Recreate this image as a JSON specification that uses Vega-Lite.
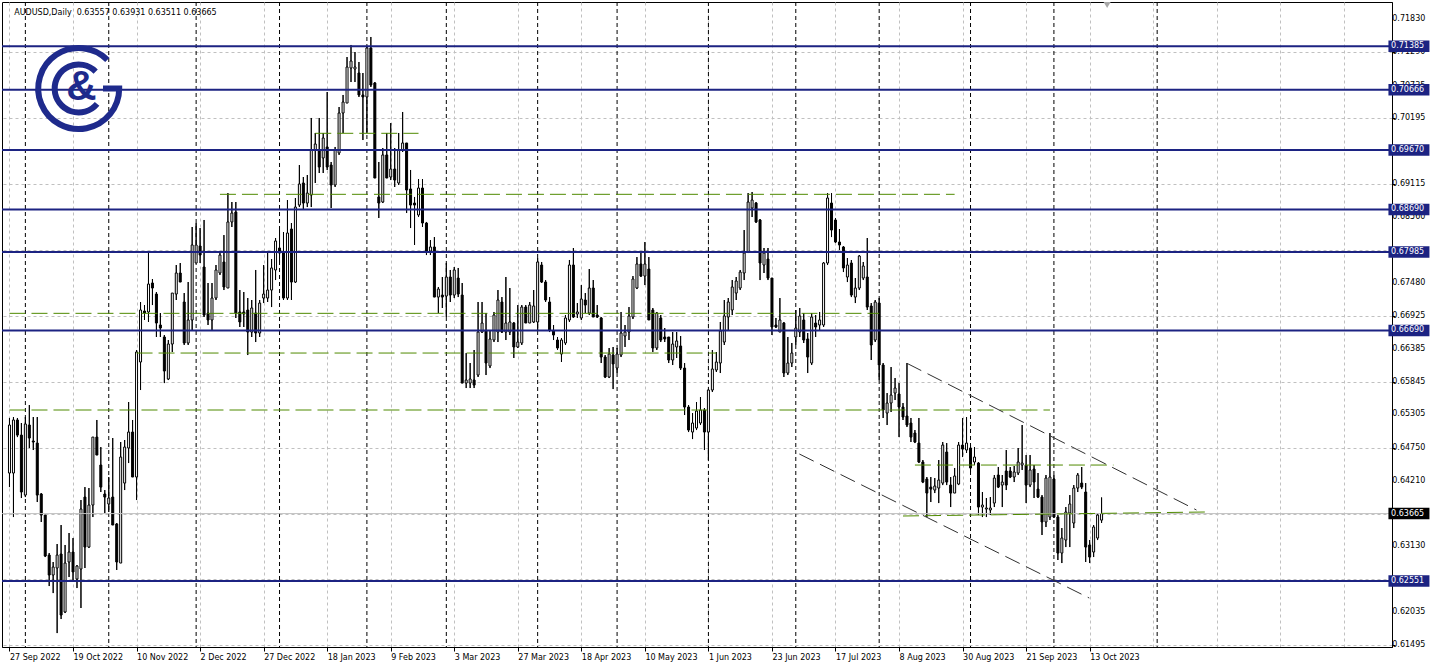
{
"$schema": "https://vega.github.io/schema/vega-lite/v6.json",
"width": 1390, "height": 645,
"autosize": {"type": "none"},
"padding": {"left": 2, "top": 2, "right": 47, "bottom": 23},
"background": "white",
"config": {"view": {"stroke": "black", "strokeWidth": 1}, "font": "DejaVu Sans"},
"datasets": {
"k": [
{"i":0,"o":0.64335,"h":0.65244,"l":0.64103,"c":0.65128},
{"i":1,"o":0.64335,"h":0.65260,"l":0.63608,"c":0.65211},
{"i":2,"o":0.65211,"h":0.65244,"l":0.64929,"c":0.64962},
{"i":3,"o":0.64962,"h":0.65161,"l":0.63922,"c":0.64021},
{"i":4,"o":0.63971,"h":0.65260,"l":0.63938,"c":0.65145},
{"i":5,"o":0.65128,"h":0.65458,"l":0.64748,"c":0.64913},
{"i":6,"o":0.64864,"h":0.65260,"l":0.64715,"c":0.64847},
{"i":7,"o":0.64830,"h":0.65260,"l":0.63856,"c":0.63971},
{"i":8,"o":0.63988,"h":0.64004,"l":0.63526,"c":0.63641},
{"i":9,"o":0.63641,"h":0.63641,"l":0.62947,"c":0.62964},
{"i":10,"o":0.62980,"h":0.63013,"l":0.62468,"c":0.62650},
{"i":11,"o":0.62650,"h":0.62865,"l":0.62352,"c":0.62782},
{"i":12,"o":0.62766,"h":0.63162,"l":0.61691,"c":0.62980},
{"i":13,"o":0.62997,"h":0.63476,"l":0.61923,"c":0.61989},
{"i":14,"o":0.62039,"h":0.63146,"l":0.62022,"c":0.62848},
{"i":15,"o":0.62865,"h":0.63344,"l":0.62617,"c":0.63030},
{"i":16,"o":0.63030,"h":0.63261,"l":0.62567,"c":0.62700},
{"i":17,"o":0.62584,"h":0.62815,"l":0.62435,"c":0.62799},
{"i":18,"o":0.62749,"h":0.63889,"l":0.62105,"c":0.63740},
{"i":19,"o":0.63938,"h":0.64103,"l":0.62766,"c":0.63112},
{"i":20,"o":0.63112,"h":0.64087,"l":0.63096,"c":0.63806},
{"i":21,"o":0.63806,"h":0.64929,"l":0.63608,"c":0.64929},
{"i":22,"o":0.64929,"h":0.65211,"l":0.64632,"c":0.64632},
{"i":23,"o":0.64467,"h":0.64764,"l":0.64021,"c":0.64103},
{"i":24,"o":0.63988,"h":0.64054,"l":0.63674,"c":0.63938},
{"i":25,"o":0.63823,"h":0.64269,"l":0.63691,"c":0.63922},
{"i":26,"o":0.63938,"h":0.64913,"l":0.63476,"c":0.63476},
{"i":27,"o":0.63493,"h":0.63509,"l":0.62733,"c":0.62865},
{"i":28,"o":0.62848,"h":0.64847,"l":0.62848,"c":0.64599},
{"i":29,"o":0.64169,"h":0.64880,"l":0.64054,"c":0.64764},
{"i":30,"o":0.64748,"h":0.65508,"l":0.64500,"c":0.65012},
{"i":31,"o":0.65012,"h":0.65211,"l":0.64269,"c":0.64269},
{"i":32,"o":0.64269,"h":0.66367,"l":0.63889,"c":0.66334},
{"i":33,"o":0.66169,"h":0.67160,"l":0.65706,"c":0.67028},
{"i":34,"o":0.67011,"h":0.67110,"l":0.66863,"c":0.66978},
{"i":35,"o":0.66995,"h":0.67969,"l":0.66830,"c":0.67457},
{"i":36,"o":0.67474,"h":0.67540,"l":0.67110,"c":0.67391},
{"i":37,"o":0.67292,"h":0.67325,"l":0.66582,"c":0.66813},
{"i":38,"o":0.66780,"h":0.66978,"l":0.66582,"c":0.66730},
{"i":39,"o":0.66582,"h":0.66615,"l":0.65821,"c":0.66020},
{"i":40,"o":0.65888,"h":0.66532,"l":0.65871,"c":0.66466},
{"i":41,"o":0.66466,"h":0.67308,"l":0.66334,"c":0.67308},
{"i":42,"o":0.67292,"h":0.67771,"l":0.67193,"c":0.67639},
{"i":43,"o":0.67639,"h":0.67804,"l":0.67490,"c":0.67490},
{"i":44,"o":0.67160,"h":0.67308,"l":0.66450,"c":0.66483},
{"i":45,"o":0.66483,"h":0.67490,"l":0.66450,"c":0.66863},
{"i":46,"o":0.66863,"h":0.68399,"l":0.66697,"c":0.68102},
{"i":47,"o":0.67804,"h":0.68465,"l":0.67804,"c":0.68102},
{"i":48,"o":0.68085,"h":0.68382,"l":0.67804,"c":0.67936},
{"i":49,"o":0.67738,"h":0.68515,"l":0.66912,"c":0.66945},
{"i":50,"o":0.66978,"h":0.67474,"l":0.66780,"c":0.66863},
{"i":51,"o":0.66863,"h":0.67474,"l":0.66697,"c":0.67226},
{"i":52,"o":0.67226,"h":0.67771,"l":0.67193,"c":0.67689},
{"i":53,"o":0.67639,"h":0.67969,"l":0.67606,"c":0.67936},
{"i":54,"o":0.67821,"h":0.68266,"l":0.67358,"c":0.67408},
{"i":55,"o":0.67391,"h":0.68960,"l":0.67391,"c":0.68482},
{"i":56,"o":0.68482,"h":0.68812,"l":0.68399,"c":0.68630},
{"i":57,"o":0.68647,"h":0.68812,"l":0.66896,"c":0.66978},
{"i":58,"o":0.66995,"h":0.67358,"l":0.66747,"c":0.66830},
{"i":59,"o":0.66995,"h":0.67325,"l":0.66747,"c":0.66962},
{"i":60,"o":0.67028,"h":0.67226,"l":0.66284,"c":0.66664},
{"i":61,"o":0.66664,"h":0.67193,"l":0.66582,"c":0.67061},
{"i":62,"o":0.66978,"h":0.67689,"l":0.66499,"c":0.66648},
{"i":63,"o":0.66648,"h":0.67193,"l":0.66582,"c":0.67143},
{"i":64,"o":0.67226,"h":0.67771,"l":0.67143,"c":0.67292},
{"i":65,"o":0.67226,"h":0.67986,"l":0.67160,"c":0.67358},
{"i":66,"o":0.67358,"h":0.67870,"l":0.67077,"c":0.67722},
{"i":67,"o":0.67689,"h":0.68217,"l":0.67523,"c":0.68168},
{"i":68,"o":0.68052,"h":0.68349,"l":0.67804,"c":0.67969},
{"i":69,"o":0.67986,"h":0.68316,"l":0.67193,"c":0.67226},
{"i":70,"o":0.67226,"h":0.68845,"l":0.67193,"c":0.68300},
{"i":71,"o":0.68366,"h":0.68465,"l":0.67193,"c":0.67490},
{"i":72,"o":0.67490,"h":0.68878,"l":0.67474,"c":0.68729},
{"i":73,"o":0.68762,"h":0.69423,"l":0.68729,"c":0.69109},
{"i":74,"o":0.69126,"h":0.69225,"l":0.68680,"c":0.68795},
{"i":75,"o":0.68795,"h":0.69258,"l":0.68729,"c":0.68960},
{"i":76,"o":0.68927,"h":0.70200,"l":0.68729,"c":0.69671},
{"i":77,"o":0.69671,"h":0.69952,"l":0.69126,"c":0.69770},
{"i":78,"o":0.69671,"h":0.70200,"l":0.69291,"c":0.69390},
{"i":79,"o":0.69539,"h":0.69952,"l":0.69291,"c":0.69869},
{"i":80,"o":0.69721,"h":0.70629,"l":0.69341,"c":0.69390},
{"i":81,"o":0.69423,"h":0.69473,"l":0.68713,"c":0.69093},
{"i":82,"o":0.69093,"h":0.69721,"l":0.69060,"c":0.69671},
{"i":83,"o":0.69622,"h":0.70381,"l":0.69589,"c":0.70282},
{"i":84,"o":0.70282,"h":0.70580,"l":0.69952,"c":0.70464},
{"i":85,"o":0.70447,"h":0.71207,"l":0.70447,"c":0.71042},
{"i":86,"o":0.71025,"h":0.71406,"l":0.70794,"c":0.71141},
{"i":87,"o":0.71009,"h":0.71290,"l":0.70794,"c":0.71042},
{"i":88,"o":0.70943,"h":0.71125,"l":0.70547,"c":0.70580},
{"i":89,"o":0.70580,"h":0.70943,"l":0.69836,"c":0.70547},
{"i":90,"o":0.70547,"h":0.71373,"l":0.69952,"c":0.71356},
{"i":91,"o":0.71356,"h":0.71538,"l":0.70712,"c":0.70745},
{"i":92,"o":0.70778,"h":0.70794,"l":0.69208,"c":0.69208},
{"i":93,"o":0.68895,"h":0.69473,"l":0.68548,"c":0.68795},
{"i":94,"o":0.68812,"h":0.69704,"l":0.68795,"c":0.69589},
{"i":95,"o":0.69589,"h":0.69952,"l":0.69208,"c":0.69208},
{"i":96,"o":0.69225,"h":0.70117,"l":0.69175,"c":0.69357},
{"i":97,"o":0.69357,"h":0.69704,"l":0.69060,"c":0.69175},
{"i":98,"o":0.69126,"h":0.69952,"l":0.69093,"c":0.69671},
{"i":99,"o":0.69671,"h":0.70299,"l":0.69638,"c":0.69787},
{"i":100,"o":0.69787,"h":0.69787,"l":0.68630,"c":0.69010},
{"i":101,"o":0.69027,"h":0.69341,"l":0.68382,"c":0.68762},
{"i":102,"o":0.68795,"h":0.68895,"l":0.68102,"c":0.68762},
{"i":103,"o":0.68597,"h":0.69192,"l":0.68564,"c":0.69043},
{"i":104,"o":0.69043,"h":0.69192,"l":0.68399,"c":0.68465},
{"i":105,"o":0.68465,"h":0.68482,"l":0.67936,"c":0.67986},
{"i":106,"o":0.68002,"h":0.68184,"l":0.67936,"c":0.68069},
{"i":107,"o":0.68069,"h":0.68233,"l":0.67242,"c":0.67242},
{"i":108,"o":0.67242,"h":0.67408,"l":0.66978,"c":0.67374},
{"i":109,"o":0.67275,"h":0.67573,"l":0.67061,"c":0.67242},
{"i":110,"o":0.67259,"h":0.67804,"l":0.66912,"c":0.67573},
{"i":111,"o":0.67573,"h":0.67689,"l":0.67160,"c":0.67275},
{"i":112,"o":0.67275,"h":0.67738,"l":0.67226,"c":0.67689},
{"i":113,"o":0.67556,"h":0.67722,"l":0.67242,"c":0.67292},
{"i":114,"o":0.67275,"h":0.67474,"l":0.65821,"c":0.65821},
{"i":115,"o":0.65821,"h":0.66317,"l":0.65739,"c":0.65871},
{"i":116,"o":0.65821,"h":0.66152,"l":0.65739,"c":0.65888},
{"i":117,"o":0.65871,"h":0.66367,"l":0.65739,"c":0.65788},
{"i":118,"o":0.65954,"h":0.67160,"l":0.65921,"c":0.66664},
{"i":119,"o":0.66664,"h":0.67160,"l":0.66648,"c":0.66813},
{"i":120,"o":0.66681,"h":0.66978,"l":0.65954,"c":0.66152},
{"i":121,"o":0.66103,"h":0.66697,"l":0.66069,"c":0.66549},
{"i":122,"o":0.66532,"h":0.66995,"l":0.66499,"c":0.66945},
{"i":123,"o":0.66664,"h":0.67358,"l":0.66499,"c":0.67193},
{"i":124,"o":0.67160,"h":0.67242,"l":0.66648,"c":0.66664},
{"i":125,"o":0.66664,"h":0.67573,"l":0.66532,"c":0.66813},
{"i":126,"o":0.66664,"h":0.67391,"l":0.66615,"c":0.66830},
{"i":127,"o":0.66813,"h":0.66830,"l":0.66235,"c":0.66417},
{"i":128,"o":0.66417,"h":0.67110,"l":0.66400,"c":0.66499},
{"i":129,"o":0.66483,"h":0.67110,"l":0.66450,"c":0.67077},
{"i":130,"o":0.67077,"h":0.67110,"l":0.66813,"c":0.66813},
{"i":131,"o":0.66813,"h":0.67160,"l":0.66813,"c":0.67110},
{"i":132,"o":0.66830,"h":0.67358,"l":0.66813,"c":0.67094},
{"i":133,"o":0.66830,"h":0.67887,"l":0.66697,"c":0.67821},
{"i":134,"o":0.67771,"h":0.67821,"l":0.67474,"c":0.67490},
{"i":135,"o":0.67490,"h":0.67523,"l":0.67160,"c":0.67193},
{"i":136,"o":0.67160,"h":0.67242,"l":0.66664,"c":0.66697},
{"i":137,"o":0.66681,"h":0.66780,"l":0.66532,"c":0.66615},
{"i":138,"o":0.66532,"h":0.66582,"l":0.66367,"c":0.66400},
{"i":139,"o":0.66301,"h":0.66565,"l":0.66169,"c":0.66532},
{"i":140,"o":0.66483,"h":0.66945,"l":0.66450,"c":0.66896},
{"i":141,"o":0.66863,"h":0.67854,"l":0.66830,"c":0.67771},
{"i":142,"o":0.67771,"h":0.68052,"l":0.66896,"c":0.66912},
{"i":143,"o":0.66962,"h":0.67143,"l":0.66896,"c":0.66995},
{"i":144,"o":0.66896,"h":0.67440,"l":0.66863,"c":0.67209},
{"i":145,"o":0.67193,"h":0.67308,"l":0.66978,"c":0.67110},
{"i":146,"o":0.66978,"h":0.67705,"l":0.66945,"c":0.67391},
{"i":147,"o":0.67391,"h":0.67523,"l":0.66912,"c":0.66912},
{"i":148,"o":0.66945,"h":0.67110,"l":0.66896,"c":0.66912},
{"i":149,"o":0.66896,"h":0.66912,"l":0.66152,"c":0.66251},
{"i":150,"o":0.66251,"h":0.66284,"l":0.65904,"c":0.65921},
{"i":151,"o":0.65921,"h":0.66400,"l":0.65904,"c":0.66301},
{"i":152,"o":0.66284,"h":0.66417,"l":0.65722,"c":0.66136},
{"i":153,"o":0.66069,"h":0.66400,"l":0.65987,"c":0.66301},
{"i":154,"o":0.66284,"h":0.66995,"l":0.66251,"c":0.66648},
{"i":155,"o":0.66598,"h":0.66780,"l":0.66417,"c":0.66664},
{"i":156,"o":0.66664,"h":0.67077,"l":0.66532,"c":0.66929},
{"i":157,"o":0.66912,"h":0.67589,"l":0.66879,"c":0.67540},
{"i":158,"o":0.67391,"h":0.67903,"l":0.67374,"c":0.67788},
{"i":159,"o":0.67788,"h":0.67986,"l":0.67573,"c":0.67589},
{"i":160,"o":0.67589,"h":0.68151,"l":0.67440,"c":0.67788},
{"i":161,"o":0.67705,"h":0.67903,"l":0.66863,"c":0.66863},
{"i":162,"o":0.67028,"h":0.67061,"l":0.66334,"c":0.66400},
{"i":163,"o":0.66400,"h":0.66995,"l":0.66367,"c":0.66978},
{"i":164,"o":0.66896,"h":0.66945,"l":0.66499,"c":0.66532},
{"i":165,"o":0.66582,"h":0.66730,"l":0.66499,"c":0.66549},
{"i":166,"o":0.66582,"h":0.66582,"l":0.66152,"c":0.66202},
{"i":167,"o":0.66202,"h":0.66664,"l":0.66119,"c":0.66466},
{"i":168,"o":0.66417,"h":0.66664,"l":0.66235,"c":0.66516},
{"i":169,"o":0.66433,"h":0.66598,"l":0.66037,"c":0.66069},
{"i":170,"o":0.66069,"h":0.66152,"l":0.65293,"c":0.65425},
{"i":171,"o":0.65425,"h":0.65458,"l":0.65012,"c":0.65045},
{"i":172,"o":0.65012,"h":0.65326,"l":0.64896,"c":0.65161},
{"i":173,"o":0.65078,"h":0.65508,"l":0.65045,"c":0.65359},
{"i":174,"o":0.65161,"h":0.65590,"l":0.65128,"c":0.65376},
{"i":175,"o":0.65376,"h":0.65409,"l":0.64715,"c":0.65012},
{"i":176,"o":0.65012,"h":0.65722,"l":0.64550,"c":0.65706},
{"i":177,"o":0.65706,"h":0.66367,"l":0.65673,"c":0.66053},
{"i":178,"o":0.66037,"h":0.66334,"l":0.66004,"c":0.66169},
{"i":179,"o":0.66152,"h":0.66830,"l":0.65987,"c":0.66681},
{"i":180,"o":0.66499,"h":0.67193,"l":0.66450,"c":0.66929},
{"i":181,"o":0.66912,"h":0.67226,"l":0.66697,"c":0.67160},
{"i":182,"o":0.67028,"h":0.67523,"l":0.66945,"c":0.67408},
{"i":183,"o":0.67308,"h":0.67573,"l":0.67193,"c":0.67507},
{"i":184,"o":0.67391,"h":0.67689,"l":0.67358,"c":0.67655},
{"i":185,"o":0.67639,"h":0.68349,"l":0.67523,"c":0.67969},
{"i":186,"o":0.67986,"h":0.68960,"l":0.67969,"c":0.68812},
{"i":187,"o":0.68713,"h":0.68977,"l":0.68564,"c":0.68845},
{"i":188,"o":0.68795,"h":0.68812,"l":0.68465,"c":0.68482},
{"i":189,"o":0.68515,"h":0.68531,"l":0.67523,"c":0.67804},
{"i":190,"o":0.67771,"h":0.68052,"l":0.67639,"c":0.67969},
{"i":191,"o":0.67870,"h":0.68052,"l":0.67523,"c":0.67556},
{"i":192,"o":0.67556,"h":0.67556,"l":0.66615,"c":0.66747},
{"i":193,"o":0.66780,"h":0.66896,"l":0.66730,"c":0.66747},
{"i":194,"o":0.66664,"h":0.67226,"l":0.66664,"c":0.66863},
{"i":195,"o":0.66813,"h":0.66830,"l":0.65921,"c":0.65987},
{"i":196,"o":0.65987,"h":0.66582,"l":0.65954,"c":0.66152},
{"i":197,"o":0.66152,"h":0.66483,"l":0.66086,"c":0.66317},
{"i":198,"o":0.66582,"h":0.67028,"l":0.66450,"c":0.66730},
{"i":199,"o":0.66664,"h":0.67061,"l":0.66582,"c":0.66929},
{"i":200,"o":0.66863,"h":0.66978,"l":0.66483,"c":0.66532},
{"i":201,"o":0.66549,"h":0.66648,"l":0.65987,"c":0.66251},
{"i":202,"o":0.66152,"h":0.66978,"l":0.66119,"c":0.66912},
{"i":203,"o":0.66813,"h":0.66945,"l":0.66582,"c":0.66747},
{"i":204,"o":0.66780,"h":0.66995,"l":0.66697,"c":0.66863},
{"i":205,"o":0.66780,"h":0.67821,"l":0.66747,"c":0.67804},
{"i":206,"o":0.67804,"h":0.68960,"l":0.67771,"c":0.68878},
{"i":207,"o":0.68795,"h":0.68960,"l":0.68233,"c":0.68349},
{"i":208,"o":0.68515,"h":0.68548,"l":0.68135,"c":0.68151},
{"i":209,"o":0.68151,"h":0.68366,"l":0.68019,"c":0.68102},
{"i":210,"o":0.68069,"h":0.68085,"l":0.67655,"c":0.67722},
{"i":211,"o":0.67573,"h":0.67887,"l":0.67490,"c":0.67771},
{"i":212,"o":0.67804,"h":0.67854,"l":0.67242,"c":0.67275},
{"i":213,"o":0.67242,"h":0.67556,"l":0.67143,"c":0.67391},
{"i":214,"o":0.67391,"h":0.67936,"l":0.67358,"c":0.67920},
{"i":215,"o":0.67556,"h":0.67821,"l":0.67523,"c":0.67754},
{"i":216,"o":0.67573,"h":0.68217,"l":0.67028,"c":0.67077},
{"i":217,"o":0.67094,"h":0.67143,"l":0.66202,"c":0.66450},
{"i":218,"o":0.66532,"h":0.67193,"l":0.66499,"c":0.67160},
{"i":219,"o":0.67143,"h":0.67226,"l":0.65871,"c":0.66119},
{"i":220,"o":0.66119,"h":0.66152,"l":0.65244,"c":0.65376},
{"i":221,"o":0.65326,"h":0.65656,"l":0.65128,"c":0.65491},
{"i":222,"o":0.65491,"h":0.66086,"l":0.65343,"c":0.65623},
{"i":223,"o":0.65656,"h":0.65904,"l":0.65541,"c":0.65739},
{"i":224,"o":0.65640,"h":0.65821,"l":0.64929,"c":0.65425},
{"i":225,"o":0.65425,"h":0.65491,"l":0.65211,"c":0.65260},
{"i":226,"o":0.65277,"h":0.66152,"l":0.65095,"c":0.65128},
{"i":227,"o":0.65161,"h":0.65244,"l":0.64847,"c":0.64929},
{"i":228,"o":0.64996,"h":0.65045,"l":0.64830,"c":0.64847},
{"i":229,"o":0.64830,"h":0.65244,"l":0.64500,"c":0.64517},
{"i":230,"o":0.64517,"h":0.64550,"l":0.64169,"c":0.64186},
{"i":231,"o":0.64236,"h":0.64269,"l":0.63608,"c":0.64004},
{"i":232,"o":0.64103,"h":0.64269,"l":0.63856,"c":0.64070},
{"i":233,"o":0.64054,"h":0.64252,"l":0.64004,"c":0.64120},
{"i":234,"o":0.64087,"h":0.64550,"l":0.63839,"c":0.64219},
{"i":235,"o":0.64169,"h":0.64847,"l":0.64136,"c":0.64797},
{"i":236,"o":0.64682,"h":0.64830,"l":0.64136,"c":0.64186},
{"i":237,"o":0.64136,"h":0.64269,"l":0.63773,"c":0.64004},
{"i":238,"o":0.64004,"h":0.64418,"l":0.64004,"c":0.64285},
{"i":239,"o":0.64153,"h":0.64847,"l":0.64136,"c":0.64797},
{"i":240,"o":0.64797,"h":0.65244,"l":0.64599,"c":0.64731},
{"i":241,"o":0.64715,"h":0.65260,"l":0.64666,"c":0.64830},
{"i":242,"o":0.64748,"h":0.64797,"l":0.64352,"c":0.64418},
{"i":243,"o":0.64517,"h":0.64764,"l":0.64467,"c":0.64599},
{"i":244,"o":0.64500,"h":0.64517,"l":0.63641,"c":0.63773},
{"i":245,"o":0.63773,"h":0.64021,"l":0.63608,"c":0.63806},
{"i":246,"o":0.63740,"h":0.63922,"l":0.63608,"c":0.63757},
{"i":247,"o":0.63724,"h":0.63938,"l":0.63641,"c":0.63757},
{"i":248,"o":0.63839,"h":0.64302,"l":0.63773,"c":0.64252},
{"i":249,"o":0.64302,"h":0.64434,"l":0.64087,"c":0.64103},
{"i":250,"o":0.64136,"h":0.64302,"l":0.63773,"c":0.64186},
{"i":251,"o":0.64368,"h":0.64715,"l":0.64054,"c":0.64136},
{"i":252,"o":0.64368,"h":0.64434,"l":0.64252,"c":0.64269},
{"i":253,"o":0.64269,"h":0.64451,"l":0.64186,"c":0.64352},
{"i":254,"o":0.64335,"h":0.64748,"l":0.64302,"c":0.64517},
{"i":255,"o":0.64467,"h":0.65128,"l":0.64385,"c":0.64500},
{"i":256,"o":0.64467,"h":0.64632,"l":0.63839,"c":0.64136},
{"i":257,"o":0.64136,"h":0.64632,"l":0.64103,"c":0.64385},
{"i":258,"o":0.64401,"h":0.64467,"l":0.63922,"c":0.64186},
{"i":259,"o":0.64070,"h":0.64335,"l":0.63922,"c":0.63938},
{"i":260,"o":0.63938,"h":0.63971,"l":0.63311,"c":0.63526},
{"i":261,"o":0.63526,"h":0.64302,"l":0.63443,"c":0.64252},
{"i":262,"o":0.63608,"h":0.64996,"l":0.63559,"c":0.64269},
{"i":263,"o":0.64236,"h":0.64302,"l":0.63592,"c":0.63608},
{"i":264,"o":0.63608,"h":0.63641,"l":0.62898,"c":0.63013},
{"i":265,"o":0.63013,"h":0.63426,"l":0.62848,"c":0.63261},
{"i":266,"o":0.63228,"h":0.63773,"l":0.63112,"c":0.63691},
{"i":267,"o":0.63674,"h":0.63971,"l":0.63112,"c":0.63823},
{"i":268,"o":0.63509,"h":0.64136,"l":0.63426,"c":0.64087},
{"i":269,"o":0.64087,"h":0.64335,"l":0.64021,"c":0.64302},
{"i":270,"o":0.64169,"h":0.64434,"l":0.64070,"c":0.64103},
{"i":271,"o":0.64021,"h":0.64169,"l":0.62865,"c":0.63112},
{"i":272,"o":0.63146,"h":0.63228,"l":0.62848,"c":0.62947},
{"i":273,"o":0.63030,"h":0.63476,"l":0.62947,"c":0.63443},
{"i":274,"o":0.63261,"h":0.63674,"l":0.63228,"c":0.63641},
{"i":275,"o":0.63557,"h":0.63931,"l":0.63511,"c":0.63665}
],
"seps": [{"i":4},{"i":25},{"i":47},{"i":68},{"i":90},{"i":110},{"i":133},{"i":153},{"i":176},{"i":198},{"i":219},{"i":242},{"i":263},{"i":289}],
"levels": [
{"p":0.71385,"k":"level"},{"p":0.70666,"k":"level"},{"p":0.69670,"k":"level"},{"p":0.68690,"k":"level"},
{"p":0.67985,"k":"level"},{"p":0.66690,"k":"level"},{"p":0.62551,"k":"level"},{"p":0.63665,"k":"price"}
],
"yt": [{"p":0.7183},{"p":0.7129},{"p":0.70735},{"p":0.70195},{"p":0.69115},{"p":0.6856},{"p":0.6748},{"p":0.66925},{"p":0.66385},{"p":0.65845},{"p":0.65305},{"p":0.6475},{"p":0.6421},{"p":0.6313},{"p":0.62035},{"p":0.61495}],
"green": [
{"a":77,"b":103,"p":0.69947,"q":0.69947},
{"a":53,"b":238,"p":0.68939,"q":0.68939},
{"a":0,"b":219,"p":0.66973,"q":0.66973},
{"a":32,"b":178,"p":0.66317,"q":0.66317},
{"a":0,"b":262,"p":0.65376,"q":0.65376},
{"a":228,"b":278,"p":0.64467,"q":0.64467},
{"a":225,"b":301,"p":0.63625,"q":0.63691}
],
"chan": [
{"a":226,"b":298.9,"p":0.66147,"q":0.63724},
{"a":198.9,"b":271.9,"p":0.64649,"q":0.62270}
],
"one": [{}]
},
"layer": [
{
"data": {"name": "k"},
"mark": {"type": "rule", "color": "black", "strokeWidth": 1},
"encoding": {
"x": {"field": "i", "type": "quantitative", "title": null, "scale": {"domain": [-0.625, 346.875], "nice": false, "zero": false},
"axis": {"orient": "bottom", "title": null, "values": [0,8,16,24,32,40,48,56,64,72,80,88,96,104,112,120,128,136,144,152,160,168,176,184,192,200,208,216,224,232,240,248,256,264,272,280,288,296,304,312,320,328,336,344],
"labelExpr": "(datum.value % 16 === 0 && datum.value <= 272) ? ['27 Sep 2022','19 Oct 2022','10 Nov 2022','2 Dec 2022','27 Dec 2022','18 Jan 2023','9 Feb 2023','3 Mar 2023','27 Mar 2023','18 Apr 2023','10 May 2023','1 Jun 2023','23 Jun 2023','17 Jul 2023','8 Aug 2023','30 Aug 2023','21 Sep 2023','13 Oct 2023'][datum.value / 16] : ''",
"labelAlign": "left", "labelBaseline": "top", "labelPadding": 2, "labelFont": "DejaVu Sans", "labelFontSize": 8, "labelColor": "black", "labelOverlap": false, "labelFlush": false,
"grid": true, "gridColor": "#c0c0c0", "gridDash": [3, 3], "gridWidth": 1,
"domain": true, "domainColor": "black", "tickColor": "black", "tickSize": 4,
"tickOpacity": {"condition": {"test": "datum.value % 16 === 0 && datum.value <= 272", "value": 1}, "value": 0}}},
"y": {"field": "l", "type": "quantitative", "title": null, "scale": {"domain": [0.61461, 0.72116], "nice": false, "zero": false},
"axis": {"orient": "right", "title": null, "values": [0.7183,0.7129,0.70735,0.70195,0.69655,0.69115,0.6856,0.6802,0.6748,0.66925,0.66385,0.65845,0.65305,0.6475,0.6421,0.63665,0.6313,0.6259,0.62035,0.61495],
"labels": false,
"grid": true, "gridColor": "#c0c0c0", "gridDash": [3, 3], "gridWidth": 1,
"domain": true, "domainColor": "black", "tickColor": "black", "tickSize": 3}},
"y2": {"field": "h"}
}
},
{
"data": {"name": "seps"},
"mark": {"type": "rule", "color": "black", "strokeWidth": 1, "strokeDash": [4, 3]},
"encoding": {
"x": {"field": "i", "type": "quantitative", "title": null}
}
},
{
"data": {"name": "k"},
"mark": {"type": "rule", "color": "black", "strokeWidth": 1},
"encoding": {
"x": {"field": "i", "type": "quantitative", "title": null},
"y": {"field": "l", "type": "quantitative", "title": null},
"y2": {"field": "h"}
}
},
{
"data": {"name": "k"},
"mark": {"type": "bar", "orient": "vertical", "size": 2, "stroke": "black", "strokeWidth": 1},
"encoding": {
"x": {"field": "i", "type": "quantitative", "title": null},
"y": {"field": "o", "type": "quantitative", "title": null},
"y2": {"field": "c"},
"fill": {"condition": {"test": "datum.c < datum.o", "value": "black"}, "value": "white"}
}
},
{
"data": {"name": "levels"},
"transform": [{"filter": "datum.k === 'price'"}],
"mark": {"type": "rule", "color": "#c0c0c0", "strokeWidth": 1},
"encoding": {
"y": {"field": "p", "type": "quantitative", "title": null}
}
},
{
"data": {"name": "levels"},
"transform": [{"filter": "datum.k === 'level'"}],
"mark": {"type": "rule", "color": "#1c2382", "strokeWidth": 2},
"encoding": {
"y": {"field": "p", "type": "quantitative", "title": null}
}
},
{
"data": {"name": "green"},
"mark": {"type": "rule", "color": "#4f8a00", "strokeWidth": 1, "strokeDash": [16, 6]},
"encoding": {
"x": {"field": "a", "type": "quantitative", "title": null},
"x2": {"field": "b"},
"y": {"field": "p", "type": "quantitative", "title": null},
"y2": {"field": "q"}
}
},
{
"data": {"name": "chan"},
"mark": {"type": "rule", "color": "#303030", "strokeWidth": 1, "strokeDash": [16, 7]},
"encoding": {
"x": {"field": "a", "type": "quantitative", "title": null},
"x2": {"field": "b"},
"y": {"field": "p", "type": "quantitative", "title": null},
"y2": {"field": "q"}
}
},
{
"data": {"name": "one"},
"mark": {"type": "point", "filled": false, "opacity": 1, "stroke": "#1e2a8c", "strokeWidth": 6, "strokeCap": "butt", "size": 6561,
"shape": "M0.707,-0.707A1,1,0,1,0,1,0L0.6,0M0.419,-0.419A0.593,0.593,0,1,0,0.454,0.381"},
"encoding": {
"x": {"datum": 17.43, "type": "quantitative", "title": null},
"y": {"datum": 0.70687, "type": "quantitative", "title": null}
}
},
{
"data": {"name": "one"},
"mark": {"type": "text", "text": "&", "font": "Liberation Sans", "fontWeight": "bold", "fontSize": 42, "color": "#1e2a8c", "align": "center", "baseline": "alphabetic"},
"encoding": {
"x": {"datum": 18.1, "type": "quantitative", "title": null},
"y": {"datum": 0.70497, "type": "quantitative", "title": null}
}
},
{
"data": {"name": "one"},
"mark": {"type": "text", "text": "AUDUSD,Daily\u00a0 0.63557 0.63931 0.63511 0.63665", "font": "DejaVu Sans", "fontSize": 8, "color": "black", "align": "left", "baseline": "alphabetic"},
"encoding": {
"x": {"datum": 1.2, "type": "quantitative", "title": null},
"y": {"datum": 0.71901, "type": "quantitative", "title": null}
}
},
{
"data": {"name": "one"},
"mark": {"type": "point", "shape": "triangle-down", "filled": true, "opacity": 1, "color": "#a8a8a8", "size": 50},
"encoding": {
"x": {"datum": 276.4, "type": "quantitative", "title": null},
"y": {"datum": 0.72066, "type": "quantitative", "title": null}
}
},
{
"data": {"name": "yt"},
"mark": {"type": "text", "font": "DejaVu Sans", "fontSize": 8, "color": "black", "align": "left", "baseline": "middle"},
"encoding": {
"x": {"datum": 348.2, "type": "quantitative", "title": null},
"y": {"field": "p", "type": "quantitative", "title": null},
"text": {"field": "p", "type": "quantitative", "format": ".5f"}
}
},
{
"data": {"name": "levels"},
"mark": {"type": "point", "filled": true, "opacity": 1, "size": 1681, "shape": "M-1,-0.28H1V0.28H-1Z", "strokeWidth": 0},
"encoding": {
"x": {"datum": 352.4, "type": "quantitative", "title": null},
"y": {"field": "p", "type": "quantitative", "title": null},
"fill": {"condition": {"test": "datum.k === 'price'", "value": "black"}, "value": "#1c2382"}
}
},
{
"data": {"name": "levels"},
"mark": {"type": "text", "font": "DejaVu Sans", "fontSize": 8, "color": "white", "align": "left", "baseline": "middle"},
"encoding": {
"x": {"datum": 347.9, "type": "quantitative", "title": null},
"y": {"field": "p", "type": "quantitative", "title": null},
"text": {"field": "p", "type": "quantitative", "format": ".5f"}
}
}
]
}
